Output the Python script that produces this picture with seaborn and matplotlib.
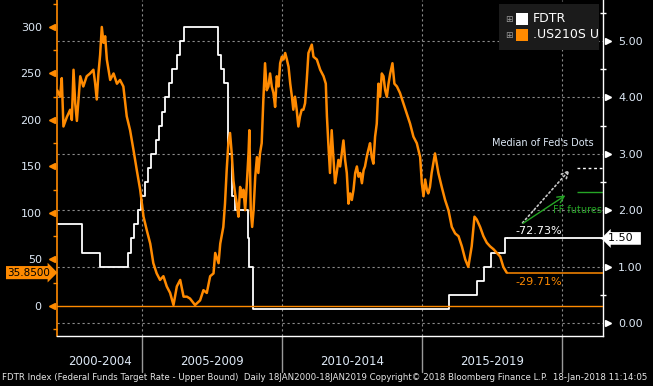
# -*- coding: utf-8 -*-
# Diferencial 2s10s vs. tasa objetivo de la Fed (estilo terminal Bloomberg)

import numpy as np
import pandas as pd
import seaborn as sns
import matplotlib.pyplot as plt
import matplotlib.transforms as mtransforms
from matplotlib.patches import Rectangle

# Diferencial 2s10s (pb), fechas en años decimales
spread_fecha = [2001.97, 2002.07, 2002.13, 2002.19, 2002.31, 2002.43, 2002.49, 2002.55, 2002.61, 2002.67,
                2002.79, 2002.90, 2003.02, 2003.14, 2003.26, 2003.32, 2003.38, 2003.44, 2003.50, 2003.56,
                2003.62, 2003.68, 2003.74, 2003.86, 2003.98, 2004.10, 2004.21, 2004.33, 2004.45, 2004.57,
                2004.69, 2004.81, 2004.93, 2005.05, 2005.17, 2005.29, 2005.40, 2005.52, 2005.64, 2005.76,
                2005.88, 2006.00, 2006.12, 2006.24, 2006.36, 2006.48, 2006.60, 2006.71, 2006.89, 2007.07,
                2007.19, 2007.31, 2007.43, 2007.55, 2007.61, 2007.73, 2007.79, 2007.90, 2007.96, 2008.02,
                2008.08, 2008.14, 2008.20, 2008.26, 2008.32, 2008.38, 2008.44, 2008.50, 2008.56, 2008.62,
                2008.68, 2008.74, 2008.80, 2008.83, 2008.88, 2008.93, 2008.98, 2009.04, 2009.10, 2009.15,
                2009.21, 2009.27, 2009.33, 2009.39, 2009.45, 2009.51, 2009.57, 2009.63, 2009.69, 2009.75,
                2009.81, 2009.87, 2009.93, 2009.99, 2010.05, 2010.11, 2010.17, 2010.23, 2010.29, 2010.35,
                2010.40, 2010.46, 2010.52, 2010.58, 2010.64, 2010.70, 2010.76, 2010.82, 2010.88, 2010.94,
                2011.06, 2011.12, 2011.24, 2011.36, 2011.48, 2011.56, 2011.60, 2011.65, 2011.71, 2011.77,
                2011.83, 2011.89, 2011.95, 2012.01, 2012.07, 2012.13, 2012.19, 2012.25, 2012.31, 2012.37,
                2012.43, 2012.49, 2012.55, 2012.61, 2012.67, 2012.73, 2012.79, 2012.85, 2012.91, 2012.96,
                2013.02, 2013.08, 2013.14, 2013.20, 2013.26, 2013.32, 2013.38, 2013.44, 2013.50, 2013.56,
                2013.62, 2013.68, 2013.74, 2013.80, 2013.86, 2013.94, 2014.01, 2014.10, 2014.21, 2014.33,
                2014.45, 2014.57, 2014.69, 2014.81, 2014.93, 2014.99, 2015.05, 2015.11, 2015.17, 2015.22,
                2015.28, 2015.34, 2015.46, 2015.58, 2015.70, 2015.82, 2015.94, 2016.06, 2016.18, 2016.30,
                2016.42, 2016.54, 2016.65, 2016.77, 2016.87, 2016.95, 2017.07, 2017.19, 2017.31, 2017.43,
                2017.55, 2017.67, 2017.79, 2017.90, 2018.02]
spread_pb = [232, 225, 245, 193, 203, 211, 200, 254, 218, 199,
             247, 236, 247, 250, 254, 240, 222, 250, 270, 300,
             283, 290, 265, 243, 250, 239, 243, 236, 204, 189,
             168, 146, 125, 96, 81, 67, 46, 35, 28, 32,
             21, 14, 1, 21, 28, 10, 10, 8, 1, 6,
             17, 14, 32, 35, 57, 46, 67, 85, 110, 146,
             175, 186, 164, 135, 121, 110, 96, 128, 117, 125,
             103, 132, 164, 189, 103, 85, 103, 139, 160, 143,
             164, 175, 222, 261, 232, 236, 250, 236, 229, 214,
             247, 236, 261, 268, 265, 272, 265, 257, 239, 225,
             211, 225, 211, 193, 204, 211, 211, 218, 243, 272,
             281, 268, 265, 254, 247, 239, 204, 175, 143, 189,
             160, 132, 143, 157, 150, 164, 178, 157, 143, 110,
             121, 114, 125, 143, 150, 139, 143, 132, 146, 150,
             160, 168, 175, 160, 153, 182, 196, 239, 225, 250,
             247, 232, 225, 239, 250, 261, 239, 236, 229, 218,
             207, 196, 182, 175, 160, 132, 118, 136, 125, 121,
             128, 143, 164, 143, 128, 114, 103, 85, 78, 75,
             64, 50, 42, 64, 96, 93, 85, 75, 68, 64,
             61, 57, 53, 42, 35.85]

# Tasa objetivo de la Fed, límite superior (%)
fdtr_fecha = [2001.96, 2002.85, 2003.48, 2004.49, 2004.61, 2004.72, 2004.86, 2004.95, 2005.09, 2005.22,
              2005.33, 2005.49, 2005.61, 2005.72, 2005.83, 2005.95, 2006.08, 2006.24, 2006.36, 2006.49,
              2007.71, 2007.83, 2007.94, 2008.06, 2008.08, 2008.21, 2008.33, 2008.77, 2008.83, 2008.96,
              2015.96, 2016.95, 2017.20, 2017.45, 2017.95, 2018.02]
fdtr_tasa = [1.75, 1.25, 1.00, 1.25, 1.50, 1.75, 2.00, 2.25, 2.50, 2.75,
             3.00, 3.25, 3.50, 3.75, 4.00, 4.25, 4.50, 4.75, 5.00, 5.25,
             4.75, 4.50, 4.25, 3.50, 3.00, 2.25, 2.00, 1.50, 1.00, 0.25,
             0.50, 0.75, 1.00, 1.25, 1.50, 1.50]

ultimo_spread = 35.85
ultima_fdtr = 1.50
mediana_dots = 2.75
ff_futuros = 2.32
cambio_fdtr = "-72.73%"
cambio_spread = "-29.71%"

periodos = ["2000-2004", "2005-2009", "2010-2014", "2015-2019"]
inicio_periodo = [2000, 2005, 2010, 2015]

# Colores tipo Bloomberg
naranja = "#ff8a00"
verde = "#25a525"
gris = "#8c8c8c"
texto = "#dde8f5"

sns.set_theme(style="dark", rc={"axes.facecolor": "black", "figure.facecolor": "black"})
plt.rcParams["font.family"] = ["DejaVu Sans"]

fig = plt.figure(figsize=(6.53, 3.86), dpi=100)
fig.patch.set_facecolor("black")
ax = fig.add_axes([57 / 653, 50 / 386, 546 / 653, 336 / 386])
ax2 = ax.twinx()

# El eje del diferencial queda encima de la FDTR
ax.set_zorder(2)
ax.patch.set_visible(False)
ax2.set_zorder(1)
ax2.patch.set_facecolor("black")

xmin, xmax = 2001.96, 2021.46
ax.set_xlim(xmin, xmax)
ax.set_ylim(-32.3, 329)
ax2.set_ylim(-0.23, 5.727)

# Cuadrícula punteada
for yr in [2005, 2010, 2015, 2020]:
    ax2.axvline(yr, color=gris, lw=0.8, ls=(0, (2, 2.5)))
for v in range(0, 6):
    ax2.axhline(v, color=gris, lw=0.8, ls=(0, (2, 2.5)))

# Series
sns.lineplot(x=fdtr_fecha, y=fdtr_tasa, ax=ax2, color="white", lw=1.3, drawstyle="steps-post")
ax2.hlines(ultima_fdtr, fdtr_fecha[-1], xmax, color="white", lw=1.3)

ax.axhline(0, color=naranja, lw=1)
sns.lineplot(x=spread_fecha, y=spread_pb, ax=ax, color=naranja, lw=1.8)
ax.hlines(ultimo_spread, spread_fecha[-1], xmax, color=naranja, lw=1.1)

# Flechas y anotaciones
ax2.annotate("", xy=(2020.33, mediana_dots), xytext=(2018.52, 1.74),
             arrowprops=dict(arrowstyle="->", ls=":", color="#c8c8c8", lw=1.2))
ax2.annotate("", xy=(2020.2, ff_futuros - 0.03), xytext=(2018.52, 1.74),
             arrowprops=dict(arrowstyle="->", color=verde, lw=1))
ax2.hlines(mediana_dots, 2020.54, xmax, color="white", lw=1, ls=(0, (2, 2)))
ax2.hlines(ff_futuros, 2020.54, xmax, color=verde, lw=1)

ax2.text(2021.14, 3.19, "Median of Fed's Dots", color=texto, fontsize=7, ha="right", va="center")
ax2.text(2019.68, 2.0, "FF futures", color=verde, fontsize=7, ha="left", va="center")
ax2.text(2018.32, 1.63, cambio_fdtr, color="white", fontsize=8, ha="left", va="center")
ax2.text(2018.32, 0.73, cambio_spread, color=naranja, fontsize=8, ha="left", va="center")

# Eje izquierdo (naranja)
ax.set_yticks(range(0, 301, 50))
ax.set_yticks(np.arange(-25, 326, 25), minor=True)
ax.tick_params(axis="y", which="major", length=0, pad=11, labelsize=8, labelcolor=texto,
               left=True, right=False)
ax.tick_params(axis="y", which="minor", length=3, color=naranja, direction="out", left=True, right=False)
tr_izq = mtransforms.blended_transform_factory(ax.transAxes, ax.transData)
ax.plot([-0.009] * 7, list(range(0, 301, 50)), marker="<", ls="none", color=naranja, ms=5,
        transform=tr_izq, clip_on=False)

# Eje derecho (blanco)
ax2.set_yticks(range(0, 6))
ax2.set_yticklabels([f"{v:.2f}" for v in range(0, 6)])
ax2.set_yticks(np.arange(-0.0, 5.6, 0.5), minor=True)
ax2.tick_params(axis="y", which="major", length=0, pad=11, labelsize=8, labelcolor=texto)
ax2.tick_params(axis="y", which="minor", length=4, color="white", direction="inout")
tr_der = mtransforms.blended_transform_factory(ax2.transAxes, ax2.transData)
ax2.plot([1.009] * 6, list(range(0, 6)), marker=">", ls="none", color="white", ms=5,
         transform=tr_der, clip_on=False)

# Eje x: marcas anuales y separadores de periodo
ax.set_xticks(range(2002, 2022))
ax.tick_params(axis="x", which="major", length=3, color="white", direction="out", labelbottom=False)
ax.grid(False)
ax2.grid(False)
tr_x = mtransforms.blended_transform_factory(ax.transData, ax.transAxes)
for yr in [2005, 2010, 2015, 2020]:
    ax.plot([yr, yr], [0, -0.107], color="#9a9a9a", lw=1, transform=tr_x, clip_on=False)
for lab, ini in zip(periodos, inicio_periodo):
    centro = (max(ini, xmin) + min(ini + 5, xmax)) / 2
    ax.text(centro, -0.077, lab, transform=tr_x, ha="center", va="center", fontsize=8.5, color=texto)

# Bordes
for s in ["top", "right"]:
    ax.spines[s].set_visible(False)
ax.spines["left"].set_color(naranja)
ax.spines["left"].set_linewidth(1.2)
ax.spines["bottom"].set_color("white")
ax.spines["bottom"].set_linewidth(1)
for s in ["top", "left", "bottom"]:
    ax2.spines[s].set_visible(False)
ax2.spines["right"].set_color("white")
ax2.spines["right"].set_linewidth(1)
ax.set_xlabel("")
ax.set_ylabel("")
ax2.set_ylabel("")

# Etiquetas del último valor
ax2.text(1.009, ultima_fdtr, f"{ultima_fdtr:.2f}  ", transform=tr_der, ha="left", va="center",
         fontsize=8, color="black", bbox=dict(boxstyle="larrow,pad=0.12", fc="white", ec="none"))
ax.text(-0.012, ultimo_spread, f"{ultimo_spread:.4f}", transform=tr_izq, ha="right", va="center",
        fontsize=7.5, color="black", zorder=10,
        bbox=dict(boxstyle="rarrow,pad=0.15", fc=naranja, ec="none"))

# Leyenda dibujada a mano
fig.patches.append(Rectangle((499 / 653, 1 - 50 / 386), 100 / 653, 46 / 386, transform=fig.transFigure,
                             fc="#1b1b1b", ec="none", zorder=5))
for i, (nom, col) in enumerate([("FDTR", "white"), (".US210S U", naranja)]):
    yc = 19 + 16 * i
    fig.patches.append(Rectangle((516 / 653, 1 - (yc + 6) / 386), 12 / 653, 12 / 386,
                                 transform=fig.transFigure, fc=col, ec="none", zorder=6))
    fig.text(509 / 653, 1 - yc / 386, "⊞", color="#9a9a9a", fontsize=6.5, ha="center", va="center", zorder=6)
    fig.text(533 / 653, 1 - yc / 386, nom, color="white", fontsize=9, ha="left", va="center", zorder=6)

# Pie de página
fig.text(2 / 653, 1 - 378 / 386,
         "FDTR Index (Federal Funds Target Rate - Upper Bound)  Daily 18JAN2000-18JAN2019 "
         "Copyright© 2018 Bloomberg Finance L.P.  18-Jan-2018 11:14:05",
         color="#e6e6e6", fontsize=6.2, ha="left", va="center")

plt.savefig("out.png", dpi=100, facecolor="black")
